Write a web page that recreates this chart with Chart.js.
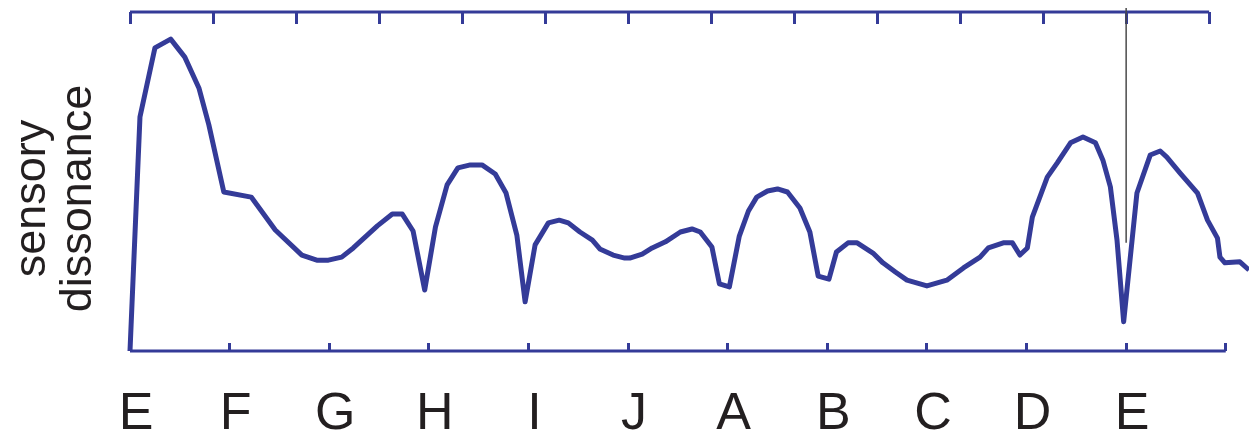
<!DOCTYPE html>
<html>
<head>
<meta charset="utf-8">
<script src="https://cdn.jsdelivr.net/npm/chart.js@4.4.1/dist/chart.umd.min.js"></script>
<style>
    body { margin: 0; background: #fff; overflow: hidden; }
    #wrap { width: 1249px; height: 433px; position: relative; }
</style>
</head>
<body>
<div id="wrap"><canvas id="myChart"></canvas></div>
<script>
// 10-step scale along the bottom axis (in cents), last tick is unlabeled
const noteLabels = ['E', 'F', 'G', 'H', 'I', 'J', 'A', 'B', 'C', 'D', 'E'];
const noteCents = [0, 120, 240, 360, 480, 600, 720, 840, 960, 1080, 1200, 1320];

// 12-tet semitones along the top axis
const semitoneCents = [0, 100, 200, 300, 400, 500, 600, 700, 800, 900, 1000, 1100, 1200, 1300];

// dissonance curve
const curveCents = [
    0, 12, 30, 49, 66, 83, 95, 113, 146, 175, 207, 225, 239, 255, 269, 298, 316, 328, 341, 355,
    368, 382, 395, 410, 424, 440, 453, 466, 476, 488, 504, 517, 528, 542, 557, 566, 582, 596, 602, 617,
    629, 645, 663, 677, 687, 701, 710, 722, 734, 745, 755, 768, 780, 792, 807, 819, 829, 842, 851, 865,
    876, 895, 907, 922, 936, 960, 984, 1004, 1024, 1034, 1052, 1063, 1072, 1081, 1087, 1105, 1117, 1133, 1148, 1163,
    1172, 1181, 1189, 1197, 1213, 1229, 1241, 1249, 1265, 1286, 1298, 1310, 1313, 1319, 1337, 1348
];
const curveDissonance = [
    0, 0.690, 0.894, 0.920, 0.867, 0.776, 0.667, 0.469, 0.454, 0.357, 0.283, 0.268, 0.268, 0.277, 0.304, 0.369, 0.404, 0.404, 0.354, 0.180,
    0.366, 0.490, 0.540, 0.549, 0.549, 0.522, 0.466, 0.342, 0.145, 0.313, 0.378, 0.386, 0.378, 0.351, 0.327, 0.301, 0.283, 0.274, 0.274, 0.286,
    0.304, 0.322, 0.351, 0.360, 0.351, 0.307, 0.198, 0.189, 0.339, 0.413, 0.454, 0.472, 0.478, 0.469, 0.422, 0.351, 0.221, 0.212, 0.292, 0.319,
    0.319, 0.289, 0.260, 0.233, 0.209, 0.192, 0.209, 0.245, 0.277, 0.304, 0.319, 0.319, 0.283, 0.304, 0.395, 0.513, 0.555, 0.614, 0.631, 0.614,
    0.563, 0.484, 0.327, 0.086, 0.466, 0.578, 0.590, 0.572, 0.525, 0.466, 0.386, 0.333, 0.277, 0.260, 0.263, 0.239
];

// thin marker at the octave
const markerCents = 1200;
const markerRange = [0.319, 1.012];

const titleLines = ['sensory', 'dissonance'];

const blue = '#343b98';
const ink = '#231f20';
const font = '"Liberation Sans", Arial, Helvetica, sans-serif';

// draws the two-line y title, rotated
const yTitle = {
    id: 'yTitle',
    afterDraw(chart) {
        const c = chart.ctx;
        const cy = (chart.chartArea.top + chart.chartArea.bottom) / 2 + 17;
        const xs = [33, 79];
        c.save();
        c.fillStyle = ink;
        c.font = '45px ' + font;
        c.textAlign = 'center';
        c.textBaseline = 'middle';
        titleLines.forEach((t, i) => {
            c.save();
            c.translate(xs[i], cy);
            c.rotate(-Math.PI / 2);
            c.fillText(t, 0, 0);
            c.restore();
        });
        c.restore();
    }
};

// keep the tick labels from pushing the plot area in
function noPadding(axis, height) {
    axis.height = height;
    axis.paddingLeft = 0;
    axis.paddingRight = 0;
}

function initChart() {
    const ctx = document.getElementById('myChart');

    const curve = curveCents.map((x, i) => ({ x: x, y: curveDissonance[i] }));
    const bottomLine = [
        { x: noteCents[0], y: 0 },
        { x: noteCents[noteCents.length - 1], y: 0 }
    ];
    const topLine = [
        { x: semitoneCents[0], y: 1 },
        { x: semitoneCents[semitoneCents.length - 1], y: 1 }
    ];
    const marker = [
        { x: markerCents, y: markerRange[0] },
        { x: markerCents, y: markerRange[1] }
    ];

    new Chart(ctx, {
        type: 'line',
        data: {
            datasets: [
                {
                    data: curve,
                    borderColor: blue,
                    borderWidth: 5,
                    borderJoinStyle: 'round',
                    pointRadius: 0,
                    tension: 0,
                    clip: false
                },
                { data: marker, borderColor: '#4a4a4a', borderWidth: 1.5, pointRadius: 0, clip: false },
                { data: bottomLine, borderColor: blue, borderWidth: 3, pointRadius: 0, clip: false },
                { data: topLine, borderColor: blue, borderWidth: 3, pointRadius: 0, clip: false, xAxisID: 'x2' }
            ]
        },
        options: {
            responsive: true,
            maintainAspectRatio: false,
            animation: false,
            layout: { padding: { left: 130, right: 0, top: 0, bottom: 0 } },
            plugins: {
                legend: { display: false },
                tooltip: { enabled: false }
            },
            scales: {
                x: {
                    type: 'linear',
                    position: 'bottom',
                    min: 0,
                    max: 1348,
                    afterBuildTicks: (axis) => { axis.ticks = noteCents.map(v => ({ value: v })); },
                    afterFit: (axis) => noPadding(axis, 82),
                    border: { display: false },
                    grid: { drawOnChartArea: false, tickLength: -8, color: blue, lineWidth: 3 },
                    ticks: {
                        autoSkip: false,
                        maxRotation: 0,
                        padding: 40,
                        labelOffset: 6,
                        color: ink,
                        font: { family: font, size: 52 },
                        callback: (value, index) => noteLabels[index] || ''
                    }
                },
                x2: {
                    type: 'linear',
                    position: 'top',
                    min: 0,
                    max: 1348,
                    afterBuildTicks: (axis) => { axis.ticks = semitoneCents.map(v => ({ value: v })); },
                    afterFit: (axis) => noPadding(axis, 12),
                    border: { display: false },
                    grid: { drawOnChartArea: false, tickLength: -12, color: blue, lineWidth: 3 },
                    ticks: { display: false, autoSkip: false }
                },
                y: {
                    display: false,
                    min: 0,
                    max: 1
                }
            }
        },
        plugins: [yTitle]
    });
}

document.addEventListener('DOMContentLoaded', initChart);
</script>
</body>
</html>
